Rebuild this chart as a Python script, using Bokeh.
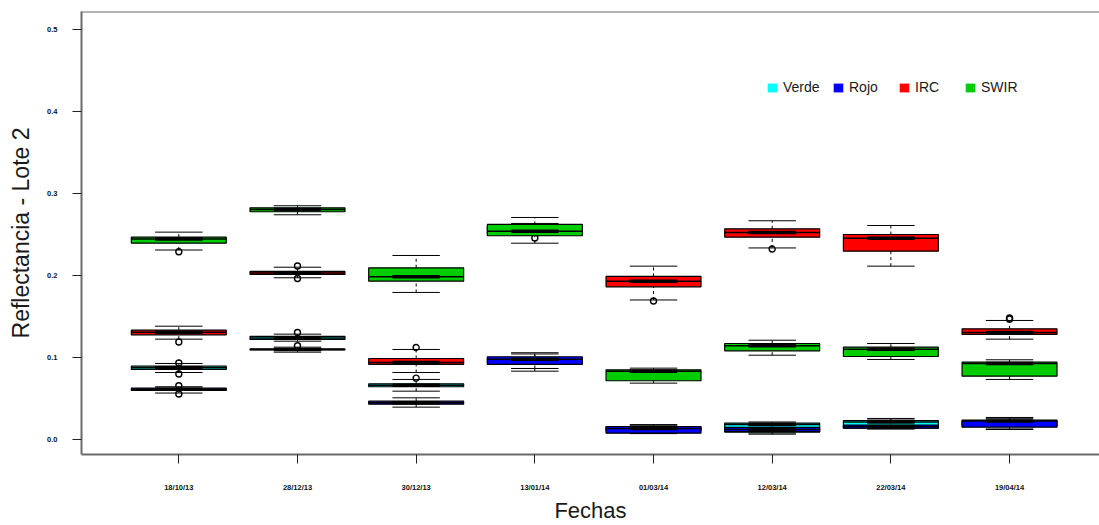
import numpy as np
from bokeh.plotting import figure
from bokeh.models import Range1d, FixedTicker, Span, Legend, LegendItem
from bokeh.embed import file_html
from bokeh.resources import INLINE

fechas = ["18/10/13", "28/12/13", "30/12/13", "13/01/14",
          "01/03/14", "12/03/14", "22/03/14", "19/04/14"]
bandas = ["Verde", "Rojo", "IRC", "SWIR"]
colores = ["#00FFFF", "#0000FF", "#FF0000", "#00CD00"]
y_ticks = [0.0, 0.1, 0.2, 0.3, 0.4, 0.5]
y_tick_labels = ["0.0", "0.1", "0.2", "0.3", "0.4", "0.5"]

# (lower whisker, Q1, median, Q3, upper whisker) for each date
verde = [
    (0.0814, 0.0851, 0.0871, 0.0891, 0.0924),
    (0.1196, 0.1217, 0.1235, 0.1254, 0.1282),
    (0.0586, 0.0640, 0.0659, 0.0676, 0.0729),
    (0.0830, 0.0925, 0.0960, 0.0995, 0.1040),
    (0.0085, 0.0100, 0.0135, 0.0150, 0.0178),
    (0.0075, 0.0085, 0.0179, 0.0195, 0.0210),
    (0.0125, 0.0134, 0.0210, 0.0228, 0.0253),
    (0.0125, 0.0160, 0.0210, 0.0225, 0.0255),
]
rojo = [
    (0.0563, 0.0594, 0.0610, 0.0622, 0.0640),
    (0.1062, 0.1089, 0.1095, 0.1101, 0.1123),
    (0.0391, 0.0427, 0.0446, 0.0464, 0.0505),
    (0.0863, 0.0912, 0.0976, 0.1006, 0.1055),
    (0.0068, 0.0073, 0.0131, 0.0155, 0.0170),
    (0.0061, 0.0094, 0.0118, 0.0143, 0.0167),
    (0.0127, 0.0134, 0.0155, 0.0173, 0.0234),
    (0.0118, 0.0146, 0.0222, 0.0232, 0.0265),
]
irc = [
    (0.1221, 0.1274, 0.1305, 0.1330, 0.1379),
    (0.1970, 0.2010, 0.2029, 0.2047, 0.2099),
    (0.0814, 0.0912, 0.0936, 0.0985, 0.1095),
    (0.2490, 0.2500, 0.2560, 0.2610, 0.2633),
    (0.1699, 0.1860, 0.1928, 0.1986, 0.2112),
    (0.2334, 0.2466, 0.2523, 0.2568, 0.2666),
    (0.2112, 0.2295, 0.2453, 0.2498, 0.2608),
    (0.1221, 0.1278, 0.1302, 0.1347, 0.1449),
]
swir = [
    (0.2309, 0.2392, 0.2444, 0.2466, 0.2527),
    (0.2739, 0.2776, 0.2804, 0.2824, 0.2849),
    (0.1791, 0.1928, 0.1983, 0.2092, 0.2242),
    (0.2392, 0.2483, 0.2539, 0.2621, 0.2706),
    (0.0684, 0.0713, 0.0830, 0.0847, 0.0867),
    (0.1025, 0.1079, 0.1141, 0.1168, 0.1208),
    (0.0973, 0.1009, 0.1098, 0.1123, 0.1168),
    (0.0729, 0.0769, 0.0924, 0.0940, 0.0969),
]

# outlying pixels as (date index, value)
verde_out = [(0, 0.0930), (0, 0.0796), (1, 0.1302), (2, 0.0745)]
rojo_out = [(0, 0.0652), (0, 0.0552), (1, 0.1140)]
irc_out = [(0, 0.1186), (1, 0.2114), (1, 0.1961), (2, 0.1119), (3, 0.2456),
           (4, 0.1687), (5, 0.2321), (7, 0.1465), (7, 0.1479)]
swir_out = [(0, 0.2287)]

BOX_HALF = 0.4      # half of the box width (boxwex 0.8)
INNER_HALF = 0.2    # half width of staples and the heavy median bar

p = figure(width=1099, height=525, output_backend="svg", toolbar_location=None,
           x_range=Range1d(0.18, 8.758), y_range=Range1d(-0.0187, 0.522),
           min_border_left=81, min_border_right=0, min_border_top=11,
           min_border_bottom=71, background_fill_color="white",
           border_fill_color="white", outline_line_color=None)
p.xgrid.visible = False
p.ygrid.visible = False

FRAME_COLOR = "#6b6b6b"


def draw_band(stats, outs, color):
    x = [i + 1 for i in range(len(stats))]
    lo = [s[0] for s in stats]
    q1 = [s[1] for s in stats]
    med = [s[2] for s in stats]
    q3 = [s[3] for s in stats]
    hi = [s[4] for s in stats]
    left = [v - BOX_HALF for v in x]
    right = [v + BOX_HALF for v in x]
    ileft = [v - INNER_HALF for v in x]
    iright = [v + INNER_HALF for v in x]

    fill = p.quad(left=left, right=right, bottom=q1, top=q3,
                  fill_color=color, line_color=None)
    p.quad(left=left, right=right, bottom=q1, top=q3,
           fill_color=None, line_color="black", line_width=1.2)
    # whiskers
    p.segment(x0=x, y0=lo, x1=x, y1=q1, line_color="black",
              line_width=1, line_dash="3 3")
    p.segment(x0=x, y0=q3, x1=x, y1=hi, line_color="black",
              line_width=1, line_dash="3 3")
    # staples
    p.segment(x0=ileft, y0=lo, x1=iright, y1=lo, line_color="black", line_width=1)
    p.segment(x0=ileft, y0=hi, x1=iright, y1=hi, line_color="black", line_width=1)
    # median: thin across the box, heavy in the middle
    p.segment(x0=left, y0=med, x1=right, y1=med, line_color="black", line_width=1.5)
    p.segment(x0=ileft, y0=med, x1=iright, y1=med, line_color="black",
              line_width=3.5, line_cap="butt")
    if outs:
        p.scatter([o[0] + 1 for o in outs], [o[1] for o in outs],
                  marker="circle", size=6, fill_color=None,
                  line_color="black", line_width=1.4)
    return fill


legend_renderers = []
for stats, outs, color in zip([verde, rojo, irc, swir],
                              [verde_out, rojo_out, irc_out, swir_out],
                              colores):
    legend_renderers.append(draw_band(stats, outs, color))

# frame top edge
p.add_layout(Span(location=0.522, dimension="width", line_color=FRAME_COLOR,
                  line_width=2))

# axes
p.xaxis.ticker = FixedTicker(ticks=list(range(1, len(fechas) + 1)))
p.xaxis.major_label_overrides = {i + 1: f for i, f in enumerate(fechas)}
p.yaxis.ticker = FixedTicker(ticks=y_ticks)
p.yaxis.major_label_overrides = dict(zip(y_ticks, y_tick_labels))
for ax in (p.xaxis[0], p.yaxis[0]):
    ax.axis_line_color = FRAME_COLOR
    ax.axis_line_width = 2
    ax.major_tick_line_color = "#222222"
    ax.major_tick_line_width = 1
    ax.major_tick_in = 0
    ax.major_tick_out = 9
    ax.minor_tick_line_color = None
    ax.major_label_text_font = "Liberation Sans"
    ax.major_label_text_font_size = "7.5px"
    ax.major_label_text_font_style = "bold"
    ax.major_label_text_color = "#111111"
    ax.axis_label_text_font = "Liberation Sans"
    ax.axis_label_text_font_style = "normal"
    ax.axis_label_text_color = "#1a1a1a"

p.xaxis.axis_label = "Fechas"
p.yaxis.axis_label = "Reflectancia - Lote 2"
p.xaxis.axis_label_text_font_size = "22px"
p.yaxis.axis_label_text_font_size = "23px"
p.xaxis.major_label_standoff = 19
p.yaxis.major_label_standoff = 15
p.xaxis.axis_label_standoff = 3
p.yaxis.axis_label_standoff = 10

# legend
items = [LegendItem(label=name, renderers=[r])
         for name, r in zip(bandas, legend_renderers)]
legend = Legend(items=items, orientation="horizontal", location=(685, 359),
                glyph_width=12, glyph_height=11, label_standoff=5,
                label_width=40, spacing=9, padding=0, margin=0,
                border_line_color=None, background_fill_alpha=0,
                label_text_font="Liberation Sans", label_text_font_size="14px",
                label_text_color="#1a1a1a", label_height=11)
p.add_layout(legend)

open("out.html", "w").write(file_html(p, INLINE))
